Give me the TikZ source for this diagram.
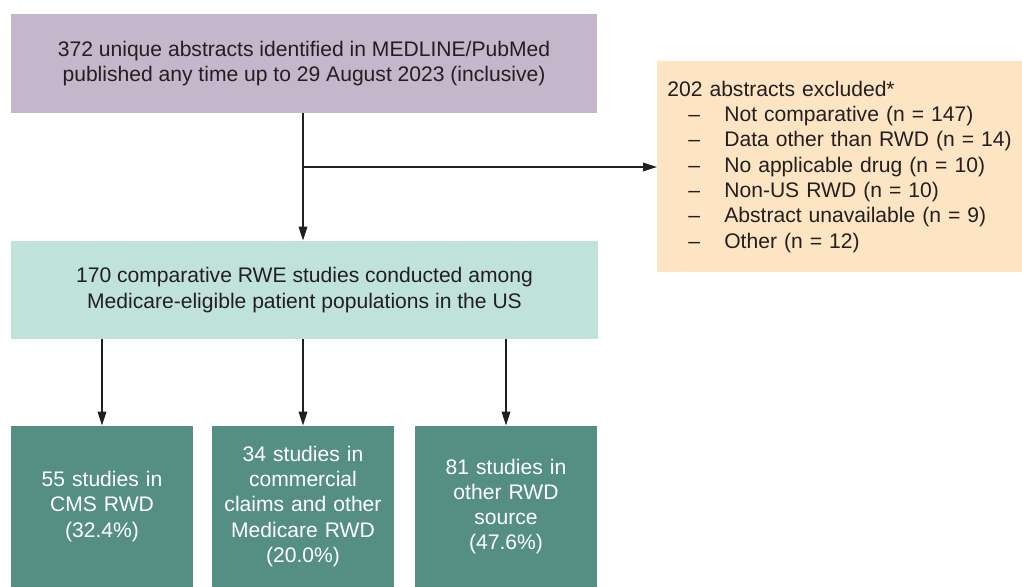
\documentclass[tikz,border=0pt]{standalone}
\usepackage{fontspec}
\setmainfont{Liberation Sans}
\usetikzlibrary{arrows.meta,positioning}
\definecolor{srcfill}{HTML}{C5B6CB}
\definecolor{exclfill}{HTML}{FDE4C3}
\definecolor{rwefill}{HTML}{BFE3DB}
\definecolor{subfill}{HTML}{558F83}
\definecolor{ink}{HTML}{231F20}
\newcommand{\exitem}[1]{\hspace*{0.42cm}\makebox[0.72cm][l]{\textendash}#1}

\begin{document}
\begin{tikzpicture}[x=0.02cm, y=-0.02cm, >={Triangle[length=0.28cm,width=0.17cm]}, font=\fontsize{12}{14.4}\selectfont,
  box/.style={inner sep=0pt, align=center, text=ink},
  subbox/.style={box, fill=subfill, text=white, minimum width=3.64cm, minimum height=3.22cm, text width=3.4cm},
  link/.style={draw=ink, line width=1pt, ->}]
  \useasboundingbox (0,0) rectangle (1022,587);
  \node[box, fill=srcfill, minimum width=11.72cm, minimum height=1.98cm](src) at (304,63.5)
    {372 unique abstracts identified in MEDLINE/PubMed\\published any time up to 29 August 2023 (inclusive)};
  \node[box, fill=rwefill, minimum width=11.74cm, minimum height=1.96cm](rwe) at (304.5,290)
    {170 comparative RWE studies conducted among\\Medicare-eligible patient populations in the US};
  \node[box, fill=exclfill, anchor=north west, minimum width=7.3cm, minimum height=4.22cm, text width=6.9cm, inner xsep=0.2cm, align=left](excl) at (657,61)
    {202 abstracts excluded*\\\exitem{Not comparative (n = 147)}\\\exitem{Data other than RWD (n = 14)}\\\exitem{No applicable drug (n = 10)}\\
     \exitem{Non-US RWD (n = 10)}\\\exitem{Abstract unavailable (n = 9)}\\\exitem{Other (n = 12)}};
  \node[subbox](cms) at (102,506.5){55 studies in\\CMS RWD\\(32.4\%)};
  \node[subbox](com) at (303,506.5){34 studies in\\commercial\\claims and other\\Medicare RWD\\(20.0\%)};
  \node[subbox](oth) at (506,506.5){81 studies in\\other RWD\\source\\(47.6\%)};
  \coordinate (split) at (303,167);
  \draw[link](src.south -| split)--(rwe.north -| split);
  \draw[link](split)--(excl.west |- split);
  \draw[link](rwe.south -| cms)--(cms);\draw[link](rwe.south -| com)--(com.north);\draw[link](rwe.south -| oth)--(oth.north);
\end{tikzpicture}
\end{document}
